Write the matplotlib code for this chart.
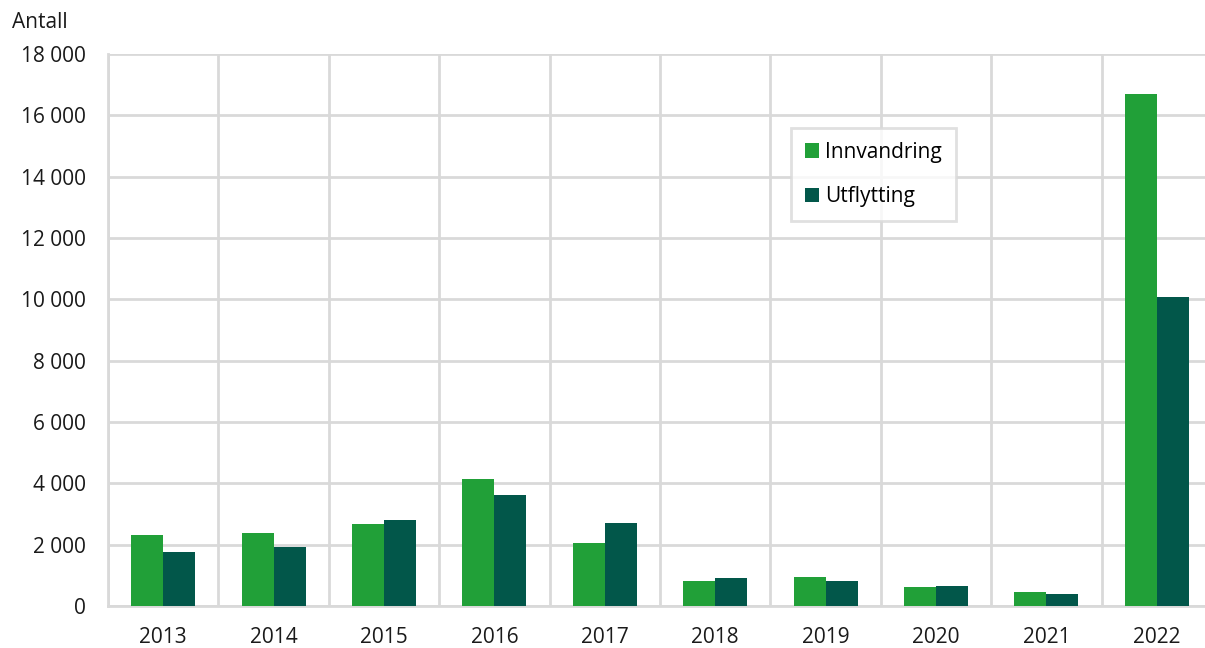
import numpy as np
import matplotlib; matplotlib.use("Agg"); import matplotlib.pyplot as plt
from matplotlib.ticker import FuncFormatter

plt.rcParams["font.family"] = ["Open Sans", "DejaVu Sans"]

years = ["2013", "2014", "2015", "2016", "2017", "2018", "2019", "2020", "2021", "2022"]
innvandring = [2330, 2390, 2660, 4150, 2070, 800, 950, 610, 460, 16700]
utflytting = [1750, 1940, 2790, 3610, 2720, 900, 830, 650, 400, 10060]

GREEN, DARK, GRID = "#21a038", "#02574a", "#d9d9d9"

fig = plt.figure(figsize=(12.05, 6.48), dpi=100)
ax = fig.add_axes([108/1205, 42/648, 1104/1205, 552/648])

x = np.arange(len(years))
w = 0.29
ax.bar(x - w/2, innvandring, w, color=GREEN, label="Innvandring", zorder=3)
ax.bar(x + w/2, utflytting, w, color=DARK, label="Utflytting", zorder=3)

ax.set_xlim(-0.5, len(years) - 0.5)
ax.set_ylim(0, 18000)
ax.set_yticks(range(0, 18001, 2000))
ax.yaxis.set_major_formatter(FuncFormatter(lambda v, p: f"{int(v):,}".replace(",", " ")))
ax.set_xticks(x)
ax.set_xticklabels(years)
ax.set_xticks(np.arange(-0.5, len(years)), minor=True)

ax.grid(axis="y", which="major", color=GRID, lw=2, zorder=0)
ax.grid(axis="x", which="minor", color=GRID, lw=2, zorder=0)
ax.tick_params(axis="both", which="both", length=0, labelsize=15, colors="#1a1a1a")
ax.tick_params(axis="x", pad=15)
ax.tick_params(axis="y", pad=16)
for s in ["top", "right"]:
    ax.spines[s].set_visible(False)
for s in ["left", "bottom"]:
    ax.spines[s].set_color(GRID); ax.spines[s].set_linewidth(2)

fig.text(12/1205, 1 - 22/648, "Antall", fontsize=15, va="center", ha="left", color="#1a1a1a")

leg = ax.legend(loc="upper left", bbox_to_anchor=((791-108)/1104, (606-128)/552),
                fontsize=15, frameon=True, fancybox=False, edgecolor=GRID,
                handlelength=0.7, handleheight=0.7, handletextpad=0.3,
                labelspacing=1.15, borderpad=0.65, borderaxespad=0)
leg.get_frame().set_linewidth(2)

fig.savefig("out.png", dpi=100)
